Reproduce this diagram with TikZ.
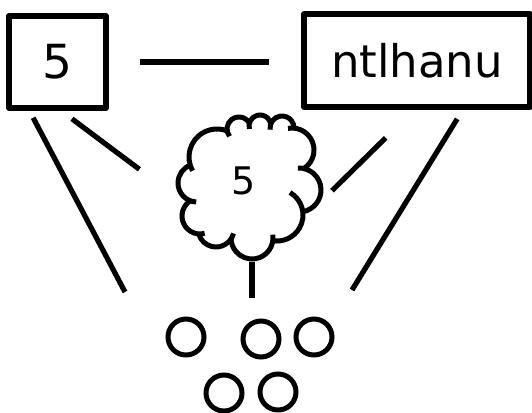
\documentclass[tikz,border=0pt]{standalone}
\usepackage{fontspec}
\setmainfont{DejaVu Sans}
\usetikzlibrary{calc}

\tikzset{
  box/.style={draw, line width=5.2pt, line join=round, inner sep=0pt, outer sep=0pt},
  ring/.style={draw, circle, line width=5pt, minimum size=36pt, inner sep=0pt, outer sep=0pt},
  puff/.style={line width=5pt},
  link/.style={line width=5.2pt},
}

\begin{document}
\begin{tikzpicture}[x=1pt, y=-1pt]
  \useasboundingbox (0,0) rectangle (532,412);

  % Boxes (top)
  \node[box, minimum width=97pt, minimum height=92pt,
    font=\fontsize{47}{50}\selectfont] (five) at (57.5,62) {5};
  \node[box, minimum width=226pt, minimum height=93pt,
    font=\fontsize{45}{50}\selectfont] (word) at (417,60.5) {ntlhanu};

  % Cloud (middle): one arc per puff
  \coordinate (cloud) at (252,188.5);
  \foreach \cx/\cy/\r/\s/\e in {
      217/157/28/150.6/291.25, 239/129/12/142.3/330.1, 260/126/11/164.4/348.2,
      282/128/12/172.1/360.4, 292/150/22/259.6/417.4, 299/190/22/267.1/440.1,
      277/215/26/300/459.2, 252/238/21/-9.1/177.5, 216/229/18/14.3/164,
      200/216/18/75/237.6, 197/183/19/92.4/249.2}
    \draw[puff] (\cx,\cy) ++(\s:\r) arc[start angle=\s, end angle=\e, radius=\r];
  \node[font=\fontsize{38}{40}\selectfont] (cloudnum) at (244,181) {5};

  % Rings (bottom)
  \node[ring] (c1) at (186,337) {};
  \node[ring] (c2) at (261,339) {};
  \node[ring] (c3) at (314,337) {};
  \node[ring] (c4) at (224,393) {};
  \node[ring] (c5) at (278,392) {};

  % Arcs (top)
  \draw[link, shorten <=34pt, shorten >=35pt] (five.east) -- (five.east -| word.west);

  % Arcs (to cloud)
  \draw[link, shorten <=18pt, shorten >=52pt] (five.south) -- ($(cloud)+(-71,12)$);
  \draw[link, shorten <=44pt, shorten >=14pt] (word.south) -- ($(cloud)+(70,12)$);

  % Arcs (to rings)
  \draw[link, shorten <=11pt] ($(five.south west)+(19,0)$) -- ($(c1)+(-61,-45)$);
  \draw[link, shorten <=14pt] ($(word.south)+(47.5,0)$) -- ($(c3)+(38,-47)$);
  \draw[link, shorten <=73pt, shorten >=23pt] (cloud) -- (cloud |- c2.north);
\end{tikzpicture}
\end{document}
